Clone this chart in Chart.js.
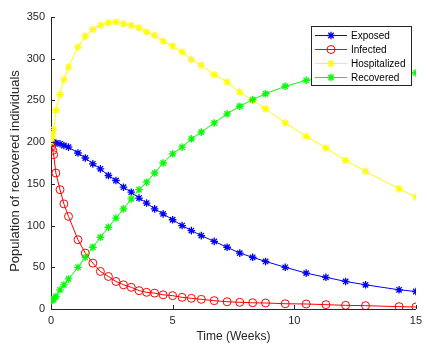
<!DOCTYPE html>
<html>
<head>
<meta charset="utf-8">
<script src="https://cdn.jsdelivr.net/npm/chart.js@4.4.0/dist/chart.umd.min.js"></script>
<style>
  html, body { margin: 0; padding: 0; background: #fff; }
</style>
</head>
<body>
<canvas id="chart" width="427" height="344"></canvas>
<script>
// solver output times (weeks), shared by all four curves
const weeks = [0, 0.03, 0.07, 0.11, 0.2, 0.37, 0.53, 0.72, 1.11, 1.41, 1.72, 2.03, 2.36, 2.67, 2.98, 3.3, 3.62, 3.93,
  4.26, 4.61, 5.0, 5.39, 5.77, 6.18, 6.71, 7.24, 7.76, 8.29, 8.82, 9.63, 10.49, 11.3, 12.11, 12.93, 14.31, 15]
const exposed = [200, 200, 199, 199, 199, 198, 196, 194, 187, 181, 174, 168, 160, 154, 146, 140, 133, 127,
  120, 114, 107, 100, 94, 88, 81, 74, 67, 62, 57, 50, 43, 38, 33, 29, 23, 21]
const infected = [200, 195, 190, 185, 163, 143, 126, 111, 83, 67, 55, 45, 39, 33, 29, 26, 22, 20,
  19, 17, 16, 14, 12.8, 11.6, 10, 8.7, 8, 7.5, 7.2, 6.3, 6, 5.2, 4.4, 4, 2.8, 2.4]
const hospitalized = [200, 205, 210, 215, 238, 257, 275, 290, 314, 327, 335, 340, 343, 344, 342, 340, 337, 332,
  328, 321, 315, 308, 299, 292, 281, 272, 260, 250, 240, 223, 207, 193, 178, 165, 144, 134]
const recovered = [10, 10.5, 11, 12, 15, 23, 29, 36, 50, 62, 74, 86, 98, 109, 120, 132, 143, 152,
  163, 175, 186, 194, 204, 212, 223, 234, 243, 251, 258, 267, 274, 277, 279.5, 281, 282.5, 283]

const xTicks = [0, 5, 10, 15]
const yTicks = [0, 50, 100, 150, 200, 250, 300, 350]
const yTitle = "Population of recovered individuals"
const xTitle = "Time (Weeks)"

const axisColor = "#262626"
const family = "'Liberation Sans', Arial, sans-serif"
const font = { family: family, size: 11 }

const toPoints = (vals) => weeks.map((t, i) => ({ x: t, y: vals[i] }))

function series(label, vals, color, style, radius, order) {
    return {
        label: label,
        data: toPoints(vals),
        borderColor: color,
        backgroundColor: "rgba(0,0,0,0)",
        borderWidth: 1,
        pointStyle: style,
        pointRadius: radius,
        pointBorderColor: color,
        pointBackgroundColor: "rgba(0,0,0,0)",
        pointBorderWidth: style == "star" ? 1.3 : 1,
        showLine: true,
        tension: 0,
        order: order,
    }
}

// MATLAB-like inward tick marks + y label
const axisExtras = {
    id: "axisExtras",
    afterDatasetsDraw(chart) {
        const ctx = chart.ctx
        const x = chart.scales.x, y = chart.scales.y
        const area = chart.chartArea
        ctx.save()
        ctx.strokeStyle = axisColor
        ctx.lineWidth = 1
        ctx.beginPath()
        xTicks.forEach((v) => {
            const px = Math.round(x.getPixelForValue(v)) + 0.5
            ctx.moveTo(px, area.bottom)
            ctx.lineTo(px, area.bottom - 4)
        })
        yTicks.forEach((v) => {
            const py = Math.round(y.getPixelForValue(v)) + 0.5
            ctx.moveTo(area.left, py)
            ctx.lineTo(area.left + 4, py)
        })
        ctx.stroke()

        ctx.translate(15, 171)
        ctx.rotate(-Math.PI / 2)
        ctx.fillStyle = axisColor
        ctx.font = "13px " + family
        ctx.textAlign = "center"
        ctx.textBaseline = "middle"
        ctx.fillText(yTitle, 0, 0)
        ctx.restore()
    },
}

// boxed legend inside the plot, line + marker samples
const boxLegend = {
    id: "boxLegend",
    afterDraw(chart) {
        const ctx = chart.ctx
        const bx = 311.5, by = 26.5, bw = 100, bh = 59
        ctx.save()
        ctx.fillStyle = "#fff"
        ctx.fillRect(bx, by, bw, bh)
        ctx.strokeStyle = axisColor
        ctx.lineWidth = 1
        ctx.strokeRect(bx, by, bw, bh)
        chart.data.datasets.forEach((ds, i) => {
            const cy = 35 + i * 14
            ctx.strokeStyle = ds.borderColor
            ctx.fillStyle = "rgba(0,0,0,0)"
            ctx.lineWidth = 1
            ctx.beginPath()
            ctx.moveTo(315, cy + 0.5)
            ctx.lineTo(347, cy + 0.5)
            ctx.stroke()
            ctx.lineWidth = ds.pointBorderWidth
            Chart.helpers.drawPoint(ctx, {
                pointStyle: ds.pointStyle,
                radius: ds.pointRadius,
                borderWidth: ds.pointBorderWidth,
                rotation: 0,
            }, 331, cy + 0.5)
            ctx.fillStyle = "#000"
            ctx.font = "10px " + family
            ctx.textBaseline = "middle"
            ctx.textAlign = "left"
            ctx.fillText(ds.label, 351, cy + 1)
        })
        ctx.restore()
    },
}

new Chart(document.getElementById("chart"), {
    type: "scatter",
    data: {
        datasets: [
            series("Exposed", exposed, "#0000ff", "star", 3.8, 4),
            series("Infected", infected, "#ff0000", "circle", 4, 3),
            series("Hospitalized", hospitalized, "#ffff00", "star", 3.8, 2),
            series("Recovered", recovered, "#00ff00", "star", 3.8, 1),
        ],
    },
    options: {
        responsive: false,
        animation: false,
        layout: { padding: { top: 17, right: 7, left: 0, bottom: 0 } },
        plugins: {
            legend: { display: false },
            tooltip: { enabled: false },
        },
        scales: {
            x: {
                type: "linear",
                min: 0,
                max: 15,
                afterBuildTicks: (scale) => { scale.ticks = xTicks.map((v) => ({ value: v })) },
                afterFit: (scale) => { scale.height = 35 },
                grid: { display: false, drawTicks: false },
                border: { display: true, color: axisColor, width: 1 },
                ticks: { color: axisColor, font: font, padding: 5, maxRotation: 0 },
                title: { display: true, text: xTitle, color: axisColor, font: { family: family, size: 12 }, padding: { top: 0, bottom: 0 } },
            },
            y: {
                type: "linear",
                min: 0,
                max: 350,
                afterBuildTicks: (scale) => { scale.ticks = yTicks.map((v) => ({ value: v })) },
                afterFit: (scale) => { scale.width = 51 },
                grid: { display: false, drawTicks: false },
                border: { display: true, color: axisColor, width: 1 },
                ticks: { color: axisColor, font: font, padding: 6 },
            },
        },
    },
    plugins: [axisExtras, boxLegend],
})
</script>
</body>
</html>
